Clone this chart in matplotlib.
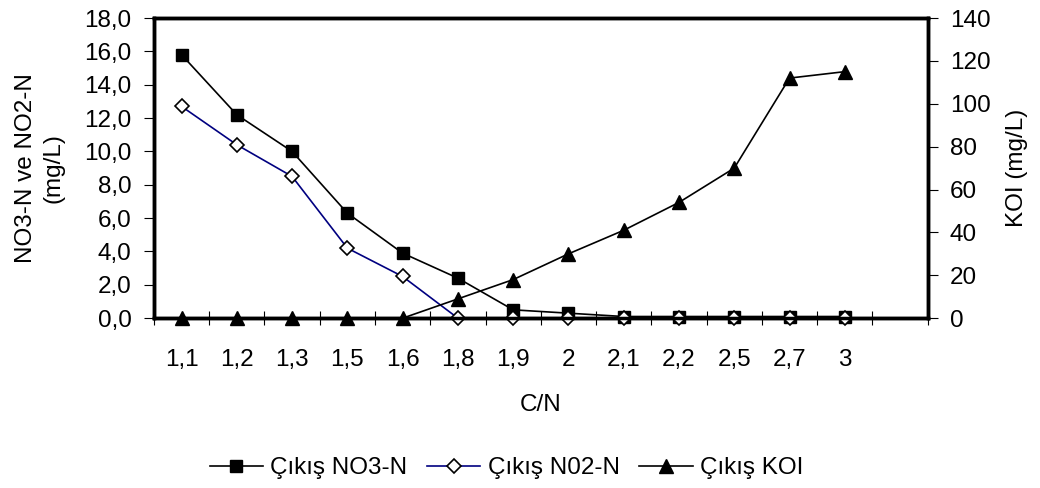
import numpy as np
import matplotlib.pyplot as plt
from matplotlib.ticker import FuncFormatter

plt.rcParams['font.family'] = ['Liberation Sans', 'DejaVu Sans']

cn_labels = ['1,1', '1,2', '1,3', '1,5', '1,6', '1,8', '1,9', '2', '2,1', '2,2', '2,5', '2,7', '3']
no3 = [15.8, 12.2, 10.0, 6.3, 3.9, 2.4, 0.5, 0.3, 0.1, 0.1, 0.1, 0.1, 0.1]
no2 = [12.7, 10.4, 8.5, 4.2, 2.5, 0.0, 0.0, 0.0, 0.0, 0.0, 0.0, 0.0, 0.0]
koi = [0, 0, 0, 0, 0, 9, 18, 30, 41, 54, 70, 112, 115]

n_slots = len(cn_labels) + 1
x = np.arange(len(cn_labels)) + 0.5
fs = 17.5

fig = plt.figure(figsize=(10.4, 4.88), dpi=100)
ax = fig.add_axes([0.148, 0.348, 0.744, 0.615])
ax2 = ax.twinx()

l1, = ax.plot(x, no3, color='black', lw=1.2, marker='s', ms=9,
              mfc='black', mec='black', label='Çıkış NO3-N', clip_on=False, zorder=3)
l2, = ax.plot(x, no2, color='#000080', lw=1.2, marker='D', ms=7,
              mfc='white', mec='black', mew=1.2, label='Çıkış N02-N', clip_on=False, zorder=4)
l3, = ax2.plot(x, koi, color='black', lw=1.2, marker='^', ms=10,
               mfc='black', mec='black', label='Çıkış KOI', clip_on=False)

ax.set_xlim(0, n_slots)
ax.set_ylim(0, 18)
ax2.set_ylim(0, 140)
ax.set_yticks(np.arange(0, 18.1, 2))
ax2.set_yticks(np.arange(0, 141, 20))
ax.yaxis.set_major_formatter(FuncFormatter(lambda v, p: f'{v:.1f}'.replace('.', ',')))

ax.set_xticks(np.arange(0, n_slots + 1))
ax.set_xticklabels([])
ax.set_xticks(x, minor=True)
ax.set_xticklabels(cn_labels, minor=True)
ax.tick_params(axis='x', which='major', direction='inout', length=10, width=0.8)
ax.tick_params(axis='x', which='minor', length=0, pad=22, labelsize=fs)
ax.tick_params(axis='y', direction='out', length=7, width=0.8, labelsize=fs, pad=9)
ax2.tick_params(axis='y', direction='out', length=7, width=0.8, labelsize=fs, pad=9)

for a in (ax, ax2):
    for s in a.spines.values():
        s.set_linewidth(2.5)

ax.set_xlabel('C/N', fontsize=fs, labelpad=17)
ax.set_ylabel('NO3-N ve NO2-N\n(mg/L)', fontsize=fs, labelpad=14, linespacing=1.35)
ax2.set_ylabel('KOI (mg/L)', fontsize=fs, labelpad=11)

fig.legend(handles=[l1, l2, l3], loc='center', bbox_to_anchor=(0.487, 0.04),
           ncol=3, frameon=False, fontsize=fs, handlelength=2.2,
           handletextpad=0.3, columnspacing=0.8, borderpad=0)

fig.savefig('out.png', dpi=100)
